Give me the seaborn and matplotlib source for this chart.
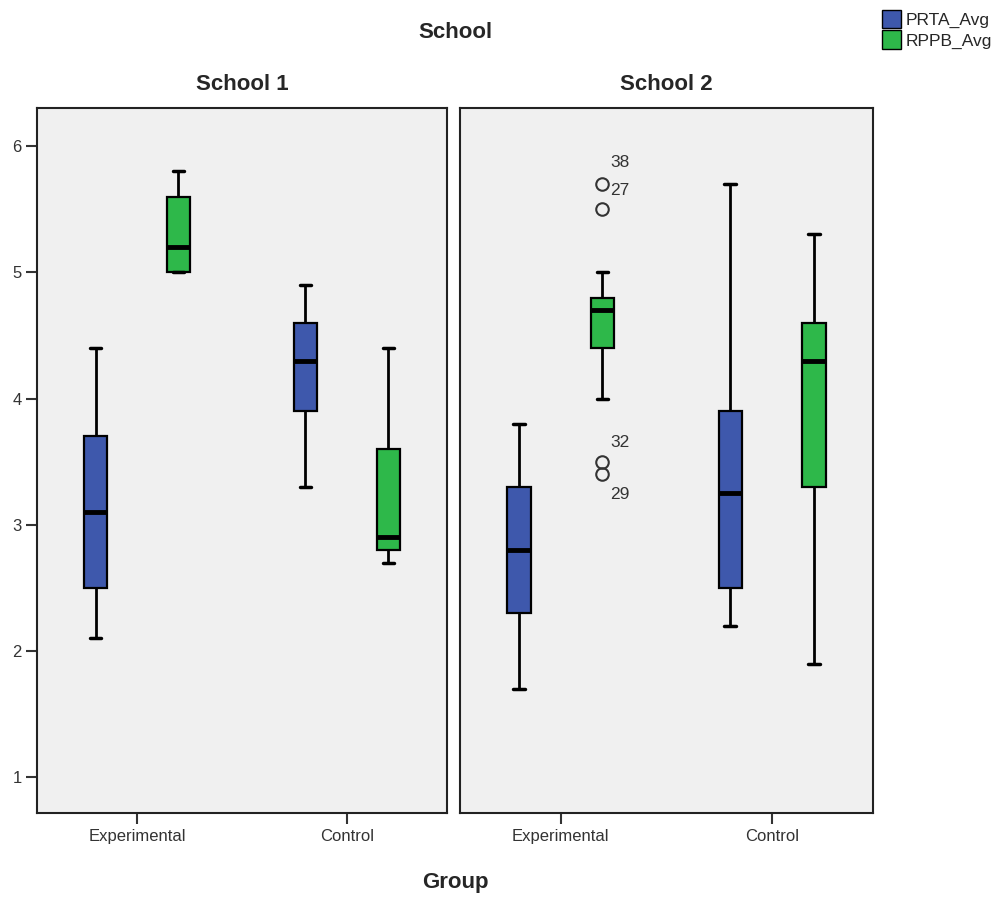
import matplotlib
matplotlib.use("Agg")
import matplotlib.pyplot as plt
from matplotlib.patches import Patch
import seaborn as sns
import pandas as pd

groups = ["Experimental", "Control"]
schools = ["School 1", "School 2"]
variables = ["PRTA_Avg", "RPPB_Avg"]

s1_exp_prta = [2.1, 2.5, 3.1, 3.7, 4.4]
s1_exp_rppb = [5.0, 5.0, 5.2, 5.6, 5.8]
s1_ctl_prta = [3.3, 3.9, 4.3, 4.6, 4.9]
s1_ctl_rppb = [2.7, 2.8, 2.9, 3.6, 4.4]
s2_exp_prta = [1.7, 2.3, 2.8, 3.3, 3.8]
s2_exp_rppb = [3.4, 3.5, 4.0, 4.4, 4.5, 4.6, 4.7, 4.75, 4.8, 4.8, 5.0, 5.5, 5.7]
s2_ctl_prta = [2.2, 2.5, 3.25, 3.9, 5.7]
s2_ctl_rppb = [1.9, 3.3, 4.3, 4.6, 5.3]

# outlier case labels in School 2 / Experimental / RPPB_Avg
outlier_ids = ["38", "27", "32", "29"]
outlier_label_y = [5.87, 5.65, 3.65, 3.24]

boxes = {
    ("School 1", "Experimental", "PRTA_Avg"): s1_exp_prta,
    ("School 1", "Experimental", "RPPB_Avg"): s1_exp_rppb,
    ("School 1", "Control", "PRTA_Avg"): s1_ctl_prta,
    ("School 1", "Control", "RPPB_Avg"): s1_ctl_rppb,
    ("School 2", "Experimental", "PRTA_Avg"): s2_exp_prta,
    ("School 2", "Experimental", "RPPB_Avg"): s2_exp_rppb,
    ("School 2", "Control", "PRTA_Avg"): s2_ctl_prta,
    ("School 2", "Control", "RPPB_Avg"): s2_ctl_rppb,
}
rows = []
for (sch, grp, var), vals in boxes.items():
    for v in vals:
        rows.append({"School": sch, "Group": grp, "Variable": var, "Value": v})
df = pd.DataFrame(rows)

palette = {"PRTA_Avg": "#3e58ac", "RPPB_Avg": "#2eb84a"}

sns.set_theme(style="white")
plt.rcParams["font.family"] = ["Liberation Sans", "DejaVu Sans"]

fig = plt.figure(figsize=(10.02, 9.01), dpi=100)
ax1 = fig.add_axes([0.037, 0.098, 0.409, 0.782])
ax2 = fig.add_axes([0.459, 0.098, 0.412, 0.782])

for ax, sch in zip([ax1, ax2], schools):
    sub = df[df["School"] == sch]
    sns.boxplot(data=sub, x="Group", y="Value", hue="Variable", order=groups,
                hue_order=variables, palette=palette, width=0.79, gap=0.72,
                linecolor="black", linewidth=1.6, saturation=1, ax=ax,
                medianprops={"linewidth": 3.5, "color": "black"},
                whiskerprops={"linewidth": 2},
                capprops={"linewidth": 2.5},
                flierprops={"marker": "o", "markersize": 9, "markerfacecolor": "none",
                            "markeredgecolor": "#333333", "markeredgewidth": 1.5},
                legend=False)
    ax.set_facecolor("#f0f0f0")
    ax.set_xlim(-0.476, 1.476)
    ax.set_ylim(0.72, 6.30)
    ax.set_xlabel("")
    ax.set_ylabel("")
    for sp in ax.spines.values():
        sp.set_visible(True)
        sp.set_color("#222222")
        sp.set_linewidth(1.5)
    ax.tick_params(axis="x", bottom=True, length=8, width=1.5, color="#333333",
                   labelsize=12, labelcolor="#333333", pad=4)
    ax.set_title(sch, fontsize=16, fontweight="bold", pad=13)

ax1.set_yticks([1, 2, 3, 4, 5, 6])
ax1.tick_params(axis="y", left=True, length=8, width=1.5, color="#333333",
                labelsize=12, labelcolor="#333333", pad=3)
ax2.set_yticks([])

for lab, ly in zip(outlier_ids, outlier_label_y):
    ax2.text(0.235, ly, lab, fontsize=12.5, color="#333333", ha="left", va="center")

fig.text(0.454, 0.964, "School", fontsize=16, fontweight="bold", ha="center", va="center")
fig.text(0.454, 0.021, "Group", fontsize=16, fontweight="bold", ha="center", va="center")

handles = [Patch(facecolor=palette[v], edgecolor="black", label=v) for v in variables]
fig.legend(handles=handles, loc="upper right", bbox_to_anchor=(1.0, 1.0),
           frameon=False, fontsize=12.5, handlelength=1.1, handleheight=1.3,
           handletextpad=0.3, labelspacing=0.1, borderaxespad=0.15)

fig.savefig("out.png", dpi=100, facecolor="white")
